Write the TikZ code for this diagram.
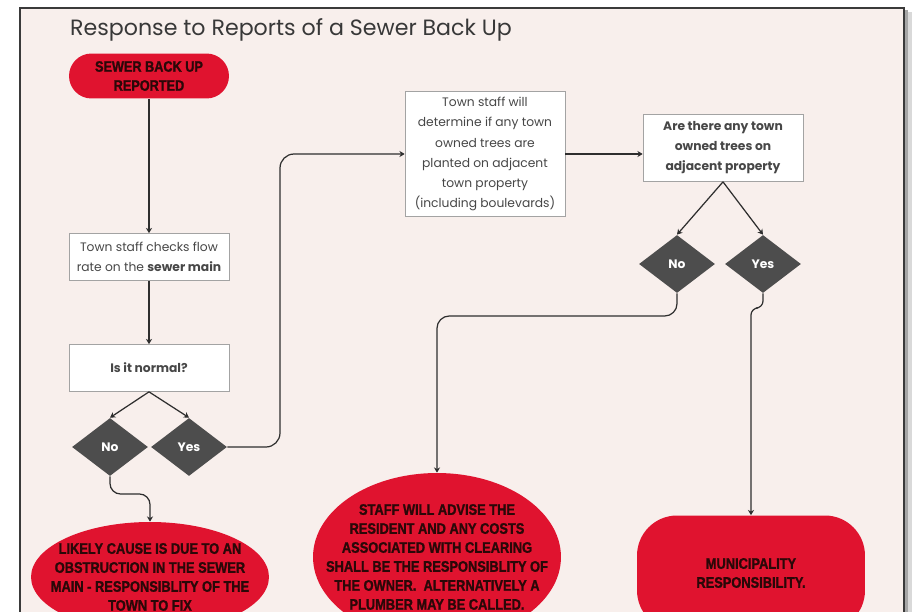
\documentclass[tikz,border=0pt]{standalone}
\usepackage{fontspec}
\setmainfont{Poppins}
\newfontfamily\capsfont[FakeStretch=0.84,FakeBold=1.2]{Liberation Sans}
\usetikzlibrary{shapes.geometric,arrows.meta}
\definecolor{pagebg}{HTML}{F8EFEC}
\definecolor{pageline}{HTML}{3A3A3A}
\definecolor{alertred}{HTML}{E0132F}
\definecolor{redink}{HTML}{2A0808}
\definecolor{choicegray}{HTML}{4D4D4D}
\definecolor{boxline}{HTML}{A3A3A3}
\definecolor{boxtext}{HTML}{474747}
\definecolor{lineink}{HTML}{2E2E2E}

\begin{document}
\begin{tikzpicture}[x=0.02cm,y=-0.02cm]
%\draw[help lines,step=50] (0,0) grid (914,612);
\tikzstyle{box}=[rectangle,draw=boxline,fill=white,text=boxtext,minimum width=3.2cm,align=center,inner sep=1mm,font=\fontsize{7}{11.4}\selectfont]
\tikzstyle{choice}=[diamond,fill=choicegray,text=white,minimum width=1.52cm,minimum height=1.16cm,inner sep=0pt,font=\fontsize{7}{8}\selectfont\bfseries]
\tikzstyle{outcome}=[ellipse,fill=alertred,text=redink,align=center,inner xsep=-1.2cm,inner ysep=0pt,font=\capsfont\bfseries\fontsize{8.7}{10.8}\selectfont]
\tikzstyle{flow}=[draw=lineink,line width=0.7pt,-{Stealth[length=3pt,width=3.5pt]}]

\useasboundingbox (0,0) rectangle (914,612);
\begin{scope}
\clip (0,0) rectangle (914,612);
\fill[white] (0,0) rectangle (914,612);
\fill[black!15] (25,12) rectangle (912,640);
\fill[black!35] (22,10) rectangle (908,640);
\draw[pageline,fill=pagebg,line width=0.8pt] (20,8) rectangle (904,640);

\node[anchor=west,text=black!78,font=\fontsize{12.6}{15}\selectfont] (title) at (64,30) {Response to Reports of a Sewer Back Up};

% left column
\node[rectangle,fill=alertred,text=redink,rounded corners=0.45cm,minimum width=3.2cm,minimum height=0.9cm,align=center,font=\capsfont\bfseries\fontsize{8.6}{10.8}\selectfont] (start) at (149,76) {SEWER BACK UP\\REPORTED};
\node[box,minimum height=0.94cm] (check) at (149,257) {Town staff checks flow\\rate on the \textbf{sewer main}};
\node[box,minimum height=0.94cm,font=\fontsize{7}{11.4}\selectfont\bfseries] (normal) at (149,368) {Is it normal?};
\node[choice] (no1) at (110,447) {No};
\node[choice] (yes1) at (189,447) {Yes};
\node[outcome,minimum width=4.76cm,minimum height=2.2cm] (likely) at (150,577) {LIKELY CAUSE IS DUE TO AN\\OBSTRUCTION IN THE SEWER\\MAIN - RESPONSIBLITY OF THE\\TOWN TO FIX};

% trees
\node[box,minimum height=2.5cm] (trees) at (485,154) {Town staff will\\determine if any town\\owned trees are\\planted on adjacent\\town property\\(including boulevards)};
\node[box,minimum height=1.34cm,font=\fontsize{7}{11.4}\selectfont\bfseries] (owned) at (723,148) {Are there any town\\owned trees on\\adjacent property};
\node[choice] (no2) at (677,264) {No};
\node[choice] (yes2) at (763,264) {Yes};
\node[outcome,minimum width=4.96cm,minimum height=3.36cm] (advise) at (437,557) {STAFF WILL ADVISE THE\\RESIDENT AND ANY COSTS\\ASSOCIATED WITH CLEARING\\SHALL BE THE RESPONSIBLITY OF\\THE OWNER.\ \ ALTERNATIVELY A\\PLUMBER MAY BE CALLED.};
\node[rectangle,fill=alertred,text=redink,rounded corners=0.8cm,minimum width=4.56cm,minimum height=2.3cm,align=center,font=\capsfont\bfseries\fontsize{8.7}{10.8}\selectfont] (muni) at (751,573) {MUNICIPALITY\\RESPONSIBILITY.};

\path[flow] (start) -- (check);
\path[flow] (check) -- (normal);
\path[flow] (normal.south) -- (no1.north);
\path[flow] (normal.south) -- (yes1.north);
\path[flow,rounded corners=8pt] (yes1.east) -- (280,447) |- (trees.west);
\path[flow,rounded corners=6pt] (no1.south) -- (110,494) -| (likely.north);
\path[flow] (trees.east) -- (trees.east -| owned.west);
\path[flow] (owned.south) -- (no2.north);
\path[flow] (owned.south) -- (yes2.north);
\path[flow,rounded corners=7pt] (no2.south) -- (677,316) -| (advise.north);
\path[flow,rounded corners=4pt] (yes2.south) -- (763,308) -| (muni.north);
\end{scope}
\end{tikzpicture}
\end{document}
